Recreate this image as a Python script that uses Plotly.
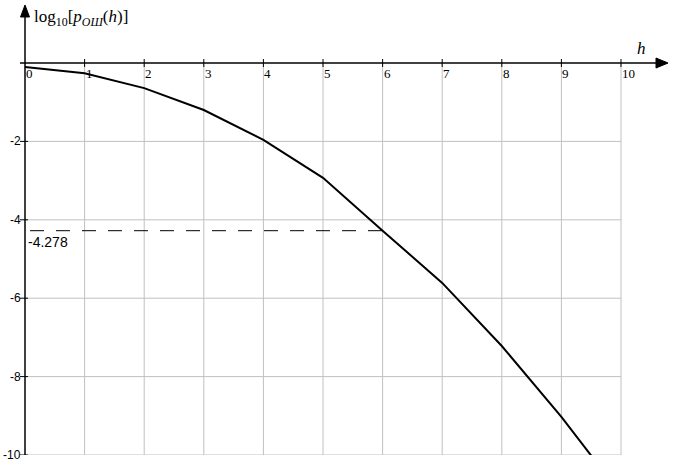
import plotly.graph_objects as go

# ---- data ----
h_values = [0, 1, 2, 3, 4, 5, 6, 7, 8, 9, 10]
log_p = [-0.10, -0.26, -0.64, -1.20, -1.96, -2.93, -4.278, -5.61, -7.22, -9.03, -11.0]
x_ticks = [0, 1, 2, 3, 4, 5, 6, 7, 8, 9, 10]
y_ticks = [-2, -4, -6, -8, -10]
marked_h = 6
marked_val = -4.278
marked_label = "-4.278"

# ---- geometry (pixels -> data) ----
W, H = 677, 476
PX_X = 59.6   # px per unit h
PX_Y = 39.2   # px per unit log
X0_PX = 25    # pixel of h=0
Y0_PX = 63    # pixel of log=0
BOT = 476 - 455

x_range = [-X0_PX / PX_X, (W - X0_PX) / PX_X]
y_range = [-10, Y0_PX / PX_Y]

def dx(px):
    return px / PX_X

def dy(px):
    return px / PX_Y

fig = go.Figure()

fig.add_trace(go.Scatter(x=h_values, y=log_p, mode="lines",
                         line=dict(color="black", width=2), showlegend=False,
                         hoverinfo="skip"))

shapes = []
grid_col = "#c0c0c0"
for t in x_ticks[1:]:
    shapes.append(dict(type="line", x0=t, x1=t, y0=0, y1=y_ticks[-1],
                       line=dict(color=grid_col, width=1), layer="below"))
for t in y_ticks:
    shapes.append(dict(type="line", x0=0, x1=x_ticks[-1], y0=t, y1=t,
                       line=dict(color=grid_col, width=1), layer="below"))
# axes
x_tip = (668 - 25) / PX_X
shapes.append(dict(type="line", x0=-dx(5), x1=x_tip - dx(6), y0=0, y1=0,
                   line=dict(color="black", width=1.5)))
y_tip = (63 - 5) / PX_Y
shapes.append(dict(type="line", x0=0, x1=0, y0=y_ticks[-1], y1=y_tip - dy(6),
                   line=dict(color="black", width=1.5)))
# tick marks
for t in x_ticks[1:]:
    shapes.append(dict(type="line", x0=t, x1=t, y0=dy(4), y1=-dy(4),
                       line=dict(color="black", width=1)))
for t in y_ticks:
    shapes.append(dict(type="line", x0=-dx(5), x1=dx(3), y0=t, y1=t,
                       line=dict(color="black", width=1)))
# arrow heads
shapes.append(dict(type="path",
                   path=f"M {x_tip} 0 L {x_tip - dx(12)} {dy(5)} L {x_tip - dx(12)} {-dy(5)} Z",
                   fillcolor="black", line=dict(color="black", width=1)))
shapes.append(dict(type="path",
                   path=f"M 0 {y_tip} L {-dx(4.5)} {y_tip - dy(12)} L {dx(4.5)} {y_tip - dy(12)} Z",
                   fillcolor="black", line=dict(color="black", width=1)))
# dashed marker line
shapes.append(dict(type="line", x0=dx(5), x1=marked_h, y0=marked_val, y1=marked_val,
                   line=dict(color="black", width=1, dash="14px,12px")))

annotations = []
tick_font = dict(family="Liberation Serif", size=13, color="black")
for t in x_ticks:
    annotations.append(dict(x=t, y=0, text=str(t), showarrow=False,
                            xanchor="left", yanchor="top", xshift=-1, yshift=-1,
                            font=tick_font))
for t in y_ticks:
    annotations.append(dict(x=0, y=t, text=str(t),
                            showarrow=False, xanchor="right", yanchor="middle",
                            xshift=-2, font=dict(family="Liberation Sans", size=12, color="black")))
annotations.append(dict(x=0, y=marked_val, text=marked_label, showarrow=False,
                        xanchor="left", yanchor="top", xshift=1, yshift=-1,
                        font=dict(family="Liberation Sans", size=14, color="black")))
annotations.append(dict(x=dx(7), y=(63 - 18) / PX_Y,
                        text="log<sub>10</sub>[<i>p</i><sub><i>ОШ</i></sub>(<i>h</i>)]",
                        showarrow=False, xanchor="left", yanchor="middle",
                        font=dict(family="Liberation Serif", size=17, color="black")))
annotations.append(dict(x=(641 - 25) / PX_X, y=dy(15), text="<i>h</i>",
                        showarrow=False, xanchor="center", yanchor="middle",
                        font=dict(family="Liberation Serif", size=17, color="black")))

fig.update_layout(
    width=W, height=H,
    margin=dict(l=0, r=0, t=0, b=BOT),
    paper_bgcolor="white", plot_bgcolor="white",
    xaxis=dict(range=x_range, visible=False, fixedrange=True),
    yaxis=dict(range=y_range, visible=False, fixedrange=True),
    shapes=shapes, annotations=annotations,
)

fig.write_html("out.html", config={"displayModeBar": False},
               post_script="document.body.style.margin='0px';document.body.style.overflow='hidden';")
